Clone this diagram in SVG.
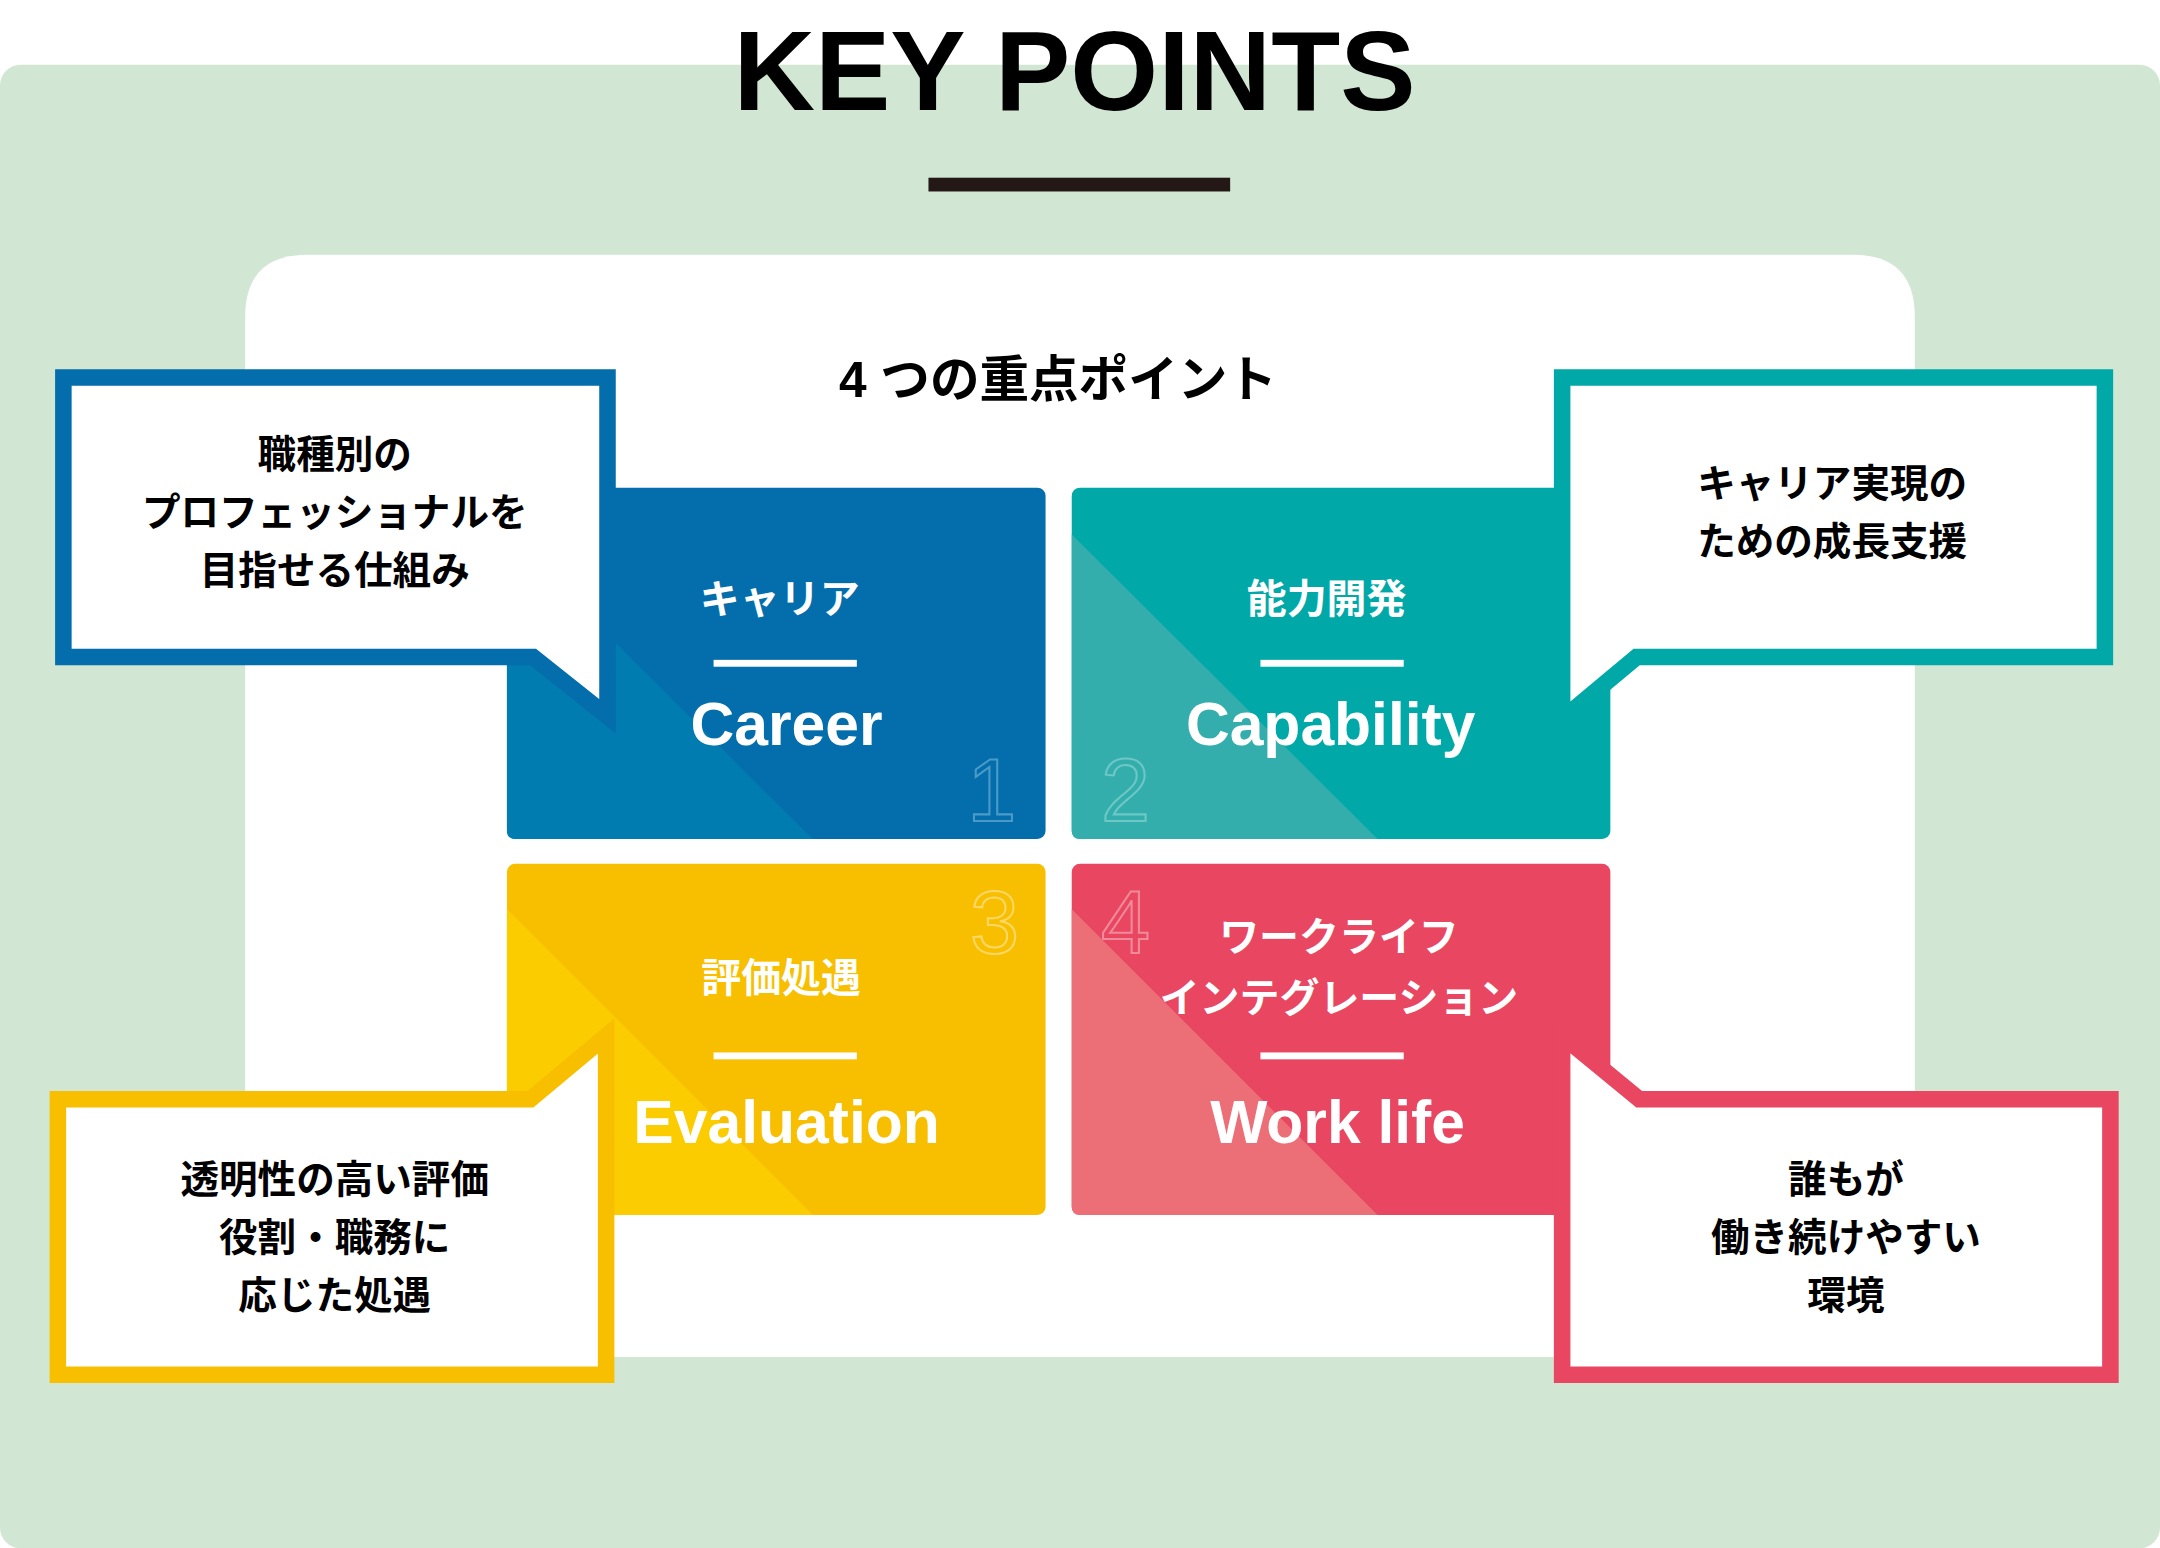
<svg xmlns="http://www.w3.org/2000/svg" width="2160" height="1548" viewBox="0 0 2160 1548">
<style>
text{font-family:"Liberation Sans","Noto Sans CJK JP",sans-serif;font-weight:bold;text-anchor:middle}
.w{fill:#fff}.k{fill:#000}
.cj{font-size:29px}.en{font-size:44px}.cb{font-size:28px;fill:#000}
.num{font-size:64px;font-weight:normal;fill:none;stroke-width:1.5}
.co{fill:#fff;stroke-width:12;stroke-linejoin:miter}
</style>
<rect width="2160" height="1548" fill="#fff"/>
<g transform="scale(1.37755)">
<rect x="0" y="47" width="1568" height="1077" rx="15" fill="#d1e7d3"/>
<text x="780" y="80" style="font-size:82px" class="k">KEY POINTS</text>
<rect x="674" y="129" width="219" height="10" fill="#231815"/>
<path d="M178,985 V230 Q178,185 223,185 H1345 Q1390,185 1390,230 V985 Z" fill="#fff"/>
<text x="768" y="288" style="font-size:36px" class="k">4 つの重点ポイント</text>

<g id="career">
<rect x="368" y="354" width="391" height="255" rx="6" fill="#036eab"/>
<path d="M368,388 L590,609 H374 Q368,609 368,603 Z" fill="#007cb0"/>
<text x="566" y="445" class="w cj">キャリア</text>
<rect x="518" y="479" width="104" height="5" fill="#fff"/>
<text x="571" y="541" class="w en">Career</text>
<text x="720" y="596" class="num" stroke="#4a9ac8">1</text>
</g>
<g id="capability">
<rect x="778" y="354" width="391" height="255" rx="6" fill="#00a9a8"/>
<path d="M778,388 L1000,609 H784 Q778,609 778,603 Z" fill="#33aeac"/>
<text x="963" y="445" class="w cj">能力開発</text>
<rect x="915" y="479" width="104" height="5" fill="#fff"/>
<text x="966" y="541" class="w en">Capability</text>
<text x="817" y="596" class="num" stroke="#6cc7c5">2</text>
</g>
<g id="evaluation">
<rect x="368" y="627" width="391" height="255" rx="6" fill="#f8bf00"/>
<path d="M368,660 L590,882 H374 Q368,882 368,876 Z" fill="#fbcd00"/>
<text x="567" y="720" class="w cj">評価処遇</text>
<rect x="518" y="764" width="104" height="5" fill="#fff"/>
<text x="571" y="830" class="w en">Evaluation</text>
<text x="722" y="692" class="num" stroke="#fcd766">3</text>
</g>
<g id="worklife">
<rect x="778" y="627" width="391" height="255" rx="6" fill="#e84661"/>
<path d="M778,660 L1000,882 H784 Q778,882 778,876 Z" fill="#ec6f78"/>
<text x="972" y="690" class="w cj">ワークライフ</text>
<text x="972" y="735" class="w cj">インテグレーション</text>
<rect x="915" y="764" width="104" height="5" fill="#fff"/>
<text x="971" y="830" class="w en">Work life</text>
<text x="817" y="692" class="num" stroke="#f08a98">4</text>
</g>

<g id="callout-career">
<path class="co" stroke="#036eab" d="M46,274 H441 V520 L387,477 H46 Z"/>
<text x="243" y="340" class="cb">職種別の</text>
<text x="243" y="382" class="cb">プロフェッショナルを</text>
<text x="243" y="424" class="cb">目指せる仕組み</text>
</g>
<g id="callout-capability">
<path class="co" stroke="#00a9a8" d="M1134,274 H1528 V477 H1188 L1134,522 Z"/>
<text x="1330" y="361" class="cb">キャリア実現の</text>
<text x="1330" y="403" class="cb">ための成長支援</text>
</g>
<g id="callout-evaluation">
<path class="co" stroke="#f8bf00" d="M42,798 H385 L440,752 V998 H42 Z"/>
<text x="243" y="866" class="cb">透明性の高い評価</text>
<text x="243" y="908" class="cb">役割・職務に</text>
<text x="243" y="950" class="cb">応じた処遇</text>
</g>
<g id="callout-worklife">
<path class="co" stroke="#e84661" d="M1134,752 L1190,798 H1532 V998 H1134 Z"/>
<text x="1340" y="866" class="cb">誰もが</text>
<text x="1340" y="908" class="cb">働き続けやすい</text>
<text x="1340" y="950" class="cb">環境</text>
</g>
<g id="connectors"/>
</g>
</svg>
